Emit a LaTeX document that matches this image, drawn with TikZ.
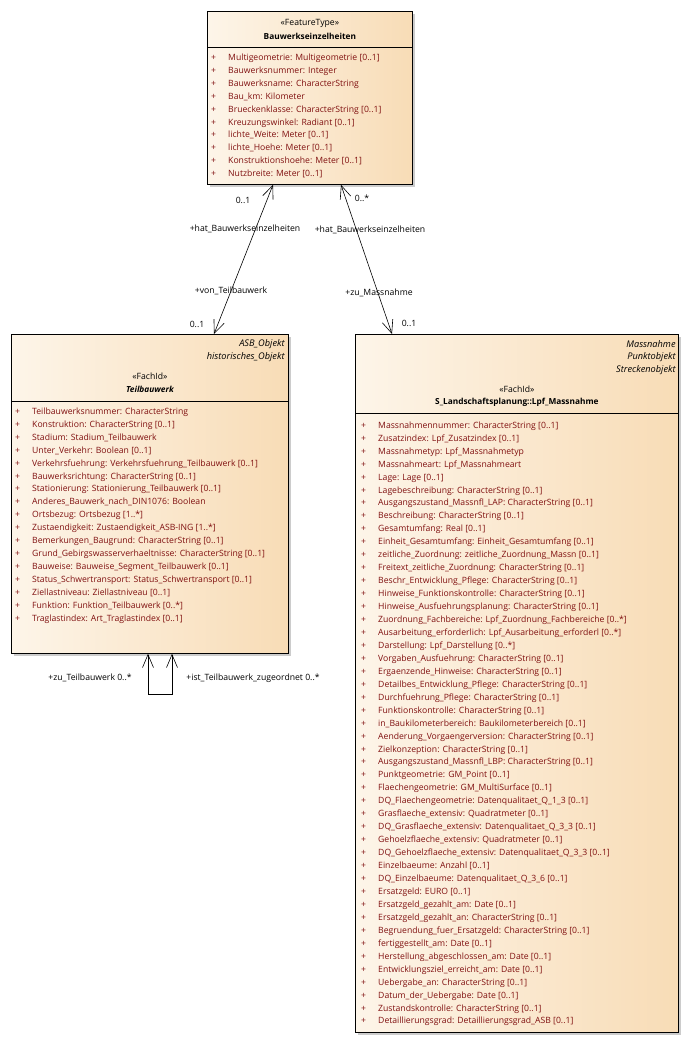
\documentclass[tikz,border=0pt]{standalone}
\usepackage{fontspec}
\setmainfont{Open Sans}
\usetikzlibrary{arrows.meta,positioning,shadows}
\definecolor{attrred}{RGB}{128,16,16}
\definecolor{boxleft}{RGB}{253,245,233}
\definecolor{boxright}{RGB}{248,220,182}
\newcommand{\attr}[1]{\makebox[17pt][l]{+}#1}
\newcommand{\umlfont}{\fontsize{8.65pt}{12.95pt}\selectfont}
\newcommand{\umlbold}{\fontsize{8.3pt}{12.95pt}\selectfont\bfseries}
\newcommand{\umlital}{\fontsize{9.2pt}{12.95pt}\selectfont\itshape}

\begin{document}
\begin{tikzpicture}[x=1pt,y=1pt]
\tikzstyle{classbox}=[draw=black, line width=0.8pt, left color=boxleft, right color=boxright,
    anchor=north west, inner sep=0pt, drop shadow={shadow xshift=3pt, shadow yshift=-3pt, fill=black!20, opacity=1}]
\tikzstyle{attrlist}=[anchor=north west, inner sep=0pt, align=left, font=\umlfont, text=attrred]
\tikzstyle{head}=[inner sep=0pt, font=\umlfont]
\tikzstyle{lbl}=[inner sep=0pt, font=\umlfont]
\tikzstyle{assoc}=[line width=0.6pt, {Straight Barb[length=13pt,width=11pt]}-{Straight Barb[length=13pt,width=11pt]}]
\useasboundingbox (0,0) rectangle (689,-1062);

% FeatureType
\node[classbox, minimum width=205pt, minimum height=173pt] (bwe) at (207,-11) {};
\draw[line width=0.8pt] ([yshift=-36pt]bwe.north west) -- ([yshift=-36pt]bwe.north east);
\node[head] (bwe-st) at ([yshift=-12pt]bwe.north) {«FeatureType»};
\node[head, font=\umlbold] (bwe-nm) at ([yshift=-25pt]bwe.north) {Bauwerkseinzelheiten};
\node[attrlist] (bwe-at) at ([xshift=4pt,yshift=-42.5pt]bwe.north west) {%
    \attr{Multigeometrie: Multigeometrie [0..1]}\\
    \attr{Bauwerksnummer: Integer}\\
    \attr{Bauwerksname: CharacterString}\\
    \attr{Bau\_km: Kilometer}\\
    \attr{Brueckenklasse: CharacterString [0..1]}\\
    \attr{Kreuzungswinkel: Radiant [0..1]}\\
    \attr{lichte\_Weite: Meter [0..1]}\\
    \attr{lichte\_Hoehe: Meter [0..1]}\\
    \attr{Konstruktionshoehe: Meter [0..1]}\\
    \attr{Nutzbreite: Meter [0..1]}};

% Teilbauwerk
\node[classbox, minimum width=277pt, minimum height=319pt] (tbw) at (11,-334) {};
\draw[line width=0.8pt] ([yshift=-67pt]tbw.north west) -- ([yshift=-67pt]tbw.north east);
\node[head, anchor=east, font=\umlital] (tbw-p1) at ([xshift=-4pt,yshift=-10pt]tbw.north east) {ASB\_Objekt};
\node[head, anchor=east, font=\umlital] (tbw-p2) at ([xshift=-4pt,yshift=-23pt]tbw.north east) {historisches\_Objekt};
\node[head] (tbw-st) at ([yshift=-42pt]tbw.north) {«FachId»};
\node[head, font=\umlbold\itshape] (tbw-nm) at ([yshift=-55pt]tbw.north) {Teilbauwerk};
\node[attrlist] (tbw-at) at ([xshift=4pt,yshift=-73.5pt]tbw.north west) {%
    \attr{Teilbauwerksnummer: CharacterString}\\
    \attr{Konstruktion: CharacterString [0..1]}\\
    \attr{Stadium: Stadium\_Teilbauwerk}\\
    \attr{Unter\_Verkehr: Boolean [0..1]}\\
    \attr{Verkehrsfuehrung: Verkehrsfuehrung\_Teilbauwerk [0..1]}\\
    \attr{Bauwerksrichtung: CharacterString [0..1]}\\
    \attr{Stationierung: Stationierung\_Teilbauwerk [0..1]}\\
    \attr{Anderes\_Bauwerk\_nach\_DIN1076: Boolean}\\
    \attr{Ortsbezug: Ortsbezug [1..*]}\\
    \attr{Zustaendigkeit: Zustaendigkeit\_ASB-ING [1..*]}\\
    \attr{Bemerkungen\_Baugrund: CharacterString [0..1]}\\
    \attr{Grund\_Gebirgswasserverhaeltnisse: CharacterString [0..1]}\\
    \attr{Bauweise: Bauweise\_Segment\_Teilbauwerk [0..1]}\\
    \attr{Status\_Schwertransport: Status\_Schwertransport [0..1]}\\
    \attr{Ziellastniveau: Ziellastniveau [0..1]}\\
    \attr{Funktion: Funktion\_Teilbauwerk [0..*]}\\
    \attr{Traglastindex: Art\_Traglastindex [0..1]}};

% Massnahme
\node[classbox, minimum width=323pt, minimum height=698pt] (lpf) at (355,-334) {};
\draw[line width=0.8pt] ([yshift=-79pt]lpf.north west) -- ([yshift=-79pt]lpf.north east);
\node[head, anchor=east, font=\umlital] (lpf-p1) at ([xshift=-3pt,yshift=-10pt]lpf.north east) {Massnahme};
\node[head, anchor=east, font=\umlital] (lpf-p2) at ([xshift=-3pt,yshift=-23pt]lpf.north east) {Punktobjekt};
\node[head, anchor=east, font=\umlital] (lpf-p3) at ([xshift=-3pt,yshift=-36pt]lpf.north east) {Streckenobjekt};
\node[head] (lpf-st) at ([yshift=-55pt]lpf.north) {«FachId»};
\node[head, font=\umlbold] (lpf-nm) at ([yshift=-68pt]lpf.north) {S\_Landschaftsplanung::Lpf\_Massnahme};
\node[attrlist] (lpf-at) at ([xshift=6pt,yshift=-87.5pt]lpf.north west) {%
    \attr{Massnahmennummer: CharacterString [0..1]}\\
    \attr{Zusatzindex: Lpf\_Zusatzindex [0..1]}\\
    \attr{Massnahmetyp: Lpf\_Massnahmetyp}\\
    \attr{Massnahmeart: Lpf\_Massnahmeart}\\
    \attr{Lage: Lage [0..1]}\\
    \attr{Lagebeschreibung: CharacterString [0..1]}\\
    \attr{Ausgangszustand\_Massnfl\_LAP: CharacterString [0..1]}\\
    \attr{Beschreibung: CharacterString [0..1]}\\
    \attr{Gesamtumfang: Real [0..1]}\\
    \attr{Einheit\_Gesamtumfang: Einheit\_Gesamtumfang [0..1]}\\
    \attr{zeitliche\_Zuordnung: zeitliche\_Zuordnung\_Massn [0..1]}\\
    \attr{Freitext\_zeitliche\_Zuordnung: CharacterString [0..1]}\\
    \attr{Beschr\_Entwicklung\_Pflege: CharacterString [0..1]}\\
    \attr{Hinweise\_Funktionskontrolle: CharacterString [0..1]}\\
    \attr{Hinweise\_Ausfuehrungsplanung: CharacterString [0..1]}\\
    \attr{Zuordnung\_Fachbereiche: Lpf\_Zuordnung\_Fachbereiche [0..*]}\\
    \attr{Ausarbeitung\_erforderlich: Lpf\_Ausarbeitung\_erforderl [0..*]}\\
    \attr{Darstellung: Lpf\_Darstellung [0..*]}\\
    \attr{Vorgaben\_Ausfuehrung: CharacterString [0..1]}\\
    \attr{Ergaenzende\_Hinweise: CharacterString [0..1]}\\
    \attr{Detailbes\_Entwicklung\_Pflege: CharacterString [0..1]}\\
    \attr{Durchfuehrung\_Pflege: CharacterString [0..1]}\\
    \attr{Funktionskontrolle: CharacterString [0..1]}\\
    \attr{in\_Baukilometerbereich: Baukilometerbereich [0..1]}\\
    \attr{Aenderung\_Vorgaengerversion: CharacterString [0..1]}\\
    \attr{Zielkonzeption: CharacterString [0..1]}\\
    \attr{Ausgangszustand\_Massnfl\_LBP: CharacterString [0..1]}\\
    \attr{Punktgeometrie: GM\_Point [0..1]}\\
    \attr{Flaechengeometrie: GM\_MultiSurface [0..1]}\\
    \attr{DQ\_Flaechengeometrie: Datenqualitaet\_Q\_1\_3 [0..1]}\\
    \attr{Grasflaeche\_extensiv: Quadratmeter [0..1]}\\
    \attr{DQ\_Grasflaeche\_extensiv: Datenqualitaet\_Q\_3\_3 [0..1]}\\
    \attr{Gehoelzflaeche\_extensiv: Quadratmeter [0..1]}\\
    \attr{DQ\_Gehoelzflaeche\_extensiv: Datenqualitaet\_Q\_3\_3 [0..1]}\\
    \attr{Einzelbaeume: Anzahl [0..1]}\\
    \attr{DQ\_Einzelbaeume: Datenqualitaet\_Q\_3\_6 [0..1]}\\
    \attr{Ersatzgeld: EURO [0..1]}\\
    \attr{Ersatzgeld\_gezahlt\_am: Date [0..1]}\\
    \attr{Ersatzgeld\_gezahlt\_an: CharacterString [0..1]}\\
    \attr{Begruendung\_fuer\_Ersatzgeld: CharacterString [0..1]}\\
    \attr{fertiggestellt\_am: Date [0..1]}\\
    \attr{Herstellung\_abgeschlossen\_am: Date [0..1]}\\
    \attr{Entwicklungsziel\_erreicht\_am: Date [0..1]}\\
    \attr{Uebergabe\_an: CharacterString [0..1]}\\
    \attr{Datum\_der\_Uebergabe: Date [0..1]}\\
    \attr{Zustandskontrolle: CharacterString [0..1]}\\
    \attr{Detaillierungsgrad: Detaillierungsgrad\_ASB [0..1]}};

% associations
\draw[assoc] ([xshift=203pt]tbw.north west) -- ([xshift=66pt]bwe.south west);
\draw[assoc] ([xshift=37pt]lpf.north west) -- ([xshift=134pt]bwe.south west);
\draw[assoc] ([xshift=137pt]tbw.south west) -- ++(0,-40) -| ([xshift=161pt]tbw.south west);

% role names and multiplicities
\node[lbl] (m1-top) at (243,-200) {0..1};
\node[lbl] (r1-top) at (245,-229) {+hat\_Bauwerkseinzelheiten};
\node[lbl] (r1-bot) at (231,-291) {+von\_Teilbauwerk};
\node[lbl] (m1-bot) at (197,-324) {0..1};
\node[lbl] (m2-top) at (362,-198) {0..*};
\node[lbl] (r2-top) at (370,-230) {+hat\_Bauwerkseinzelheiten};
\node[lbl] (r2-bot) at (379,-293) {+zu\_Massnahme};
\node[lbl] (m2-bot) at (409,-323) {0..1};
\node[lbl] (r3-left) at (90,-678) {+zu\_Teilbauwerk 0..*};
\node[lbl] (r3-right) at (253,-678) {+ist\_Teilbauwerk\_zugeordnet 0..*};
\end{tikzpicture}
\end{document}
